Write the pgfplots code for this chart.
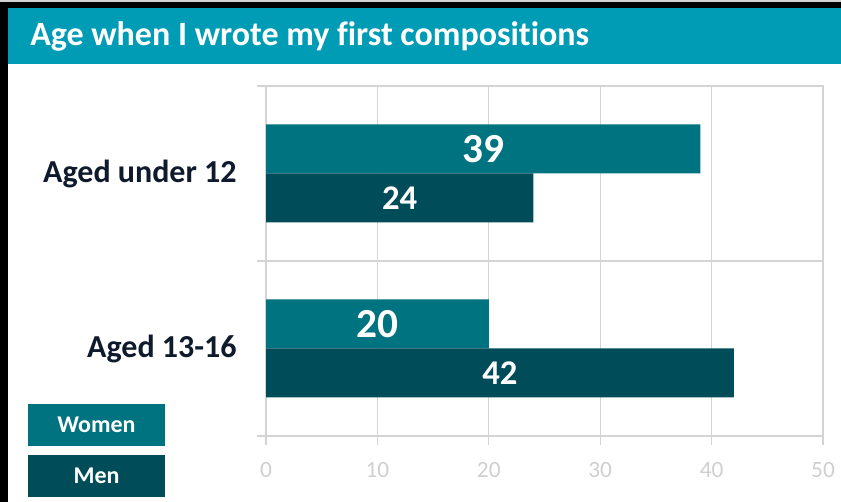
\documentclass[border=0pt]{standalone}
\usepackage{fontspec}
\setmainfont{Carlito}[Ligatures=CommonOff]
\usepackage{pgfplots}
\pgfplotsset{compat=1.18}
\definecolor{bandTeal}{HTML}{009CB5}
\definecolor{womenTeal}{HTML}{007380}
\definecolor{menTeal}{HTML}{004D59}
\definecolor{gridGray}{HTML}{D4D4D4}
\definecolor{tickGray}{HTML}{D0D0D0}
\definecolor{labelNavy}{HTML}{0F1B2C}

\begin{document}
\begin{tikzpicture}[x=1pt,y=1pt]
% frame and title band (1px = 0.75pt)
\fill[white] (0,0) rectangle (630.75,376.5);
\fill[gray!35] (0,375) rectangle (630.75,376.5);
\fill[black] (0,370.5) rectangle (630.75,375);
\fill[black] (0,0) rectangle (6,375);
\fill[bandTeal] (6,328.5) rectangle (630.75,370.5);
\node[anchor=west, inner sep=0pt, text=white, font=\bfseries\fontsize{25.5}{28}\selectfont]
    at (22.5,349.5) {Age when I wrote my first compositions};

\begin{axis}[
    at={(199.5pt,49.5pt)}, anchor=south west,
    scale only axis,
    width=417.75pt, height=262.5pt,
    xbar, bar width=36.75pt,
    xmin=0, xmax=50,
    ymin=-0.5, ymax=1.5,
    xtick={0,10,20,30,40,50},
    ytick={-0.5,0.5,1.5},
    yticklabels={},
    xtick pos=bottom, ytick pos=left,
    extra y ticks={0,1},
    extra y tick labels={Aged 13-16,Aged under 12},
    extra y tick style={grid=none, major tick length=0pt,
        tick label style={font=\bfseries\fontsize{24}{26}\selectfont, text=labelNavy, xshift=-18.5pt}},
    xmajorgrids, ymajorgrids,
    grid style={gridGray, line width=0.9pt},
    axis line style={gridGray, line width=0.9pt},
    tick style={gridGray, line width=0.9pt},
    tick align=outside,
    major tick length=7pt,
    xticklabel style={font=\fontsize{17.5}{19}\selectfont, text=tickGray, yshift=-9pt},
    /pgf/number format/assume math mode=true,
    clip=false,
]
\addplot[fill=womenTeal, draw=none, bar shift=18.375pt] coordinates {(20,0) (39,1)};
\addplot[fill=menTeal, draw=none, bar shift=-18.375pt] coordinates {(42,0) (24,1)};

\node[text=white, font=\bfseries\fontsize{31}{33}\selectfont, yshift=18.375pt] at (axis cs:19.5,1) {39};
\node[text=white, font=\bfseries\fontsize{26}{28}\selectfont, yshift=-18.375pt] at (axis cs:12,1) {24};
\node[text=white, font=\bfseries\fontsize{31}{33}\selectfont, yshift=18.375pt] at (axis cs:10,0) {20};
\node[text=white, font=\bfseries\fontsize{26}{28}\selectfont, yshift=-18.375pt] at (axis cs:21,0) {42};
\end{axis}

% legend boxes
\fill[womenTeal] (21,42) rectangle (123.75,73.5);
\node[text=white, font=\bfseries\fontsize{18}{20}\selectfont] at (72.4,57.75) {Women};
\fill[menTeal] (21,3.75) rectangle (123.75,35.25);
\node[text=white, font=\bfseries\fontsize{18}{20}\selectfont] at (72.4,19.5) {Men};
\end{tikzpicture}
\end{document}
